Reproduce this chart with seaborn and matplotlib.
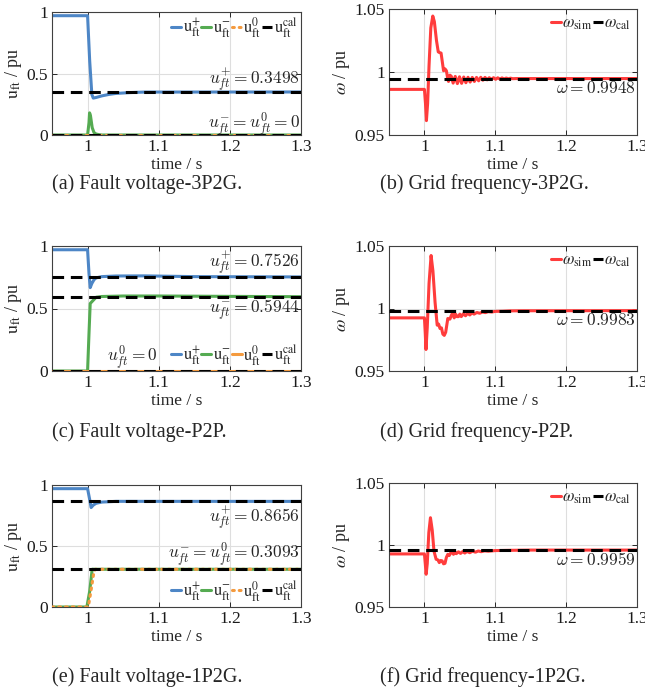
import matplotlib
matplotlib.use("Agg")
import matplotlib.pyplot as plt
import seaborn as sns
import pandas as pd

# ---------------- data ----------------
T0, T1 = 0.95, 1.3

# (a) 3P2G fault voltage
ta_pos = [0.95, 1.000, 1.003, 1.006, 1.008, 1.012, 1.02, 1.03, 1.04, 1.06, 1.08, 1.3]
ua_pos = [0.97, 0.97, 0.60, 0.33, 0.30, 0.305, 0.318, 0.330, 0.338, 0.345, 0.349, 0.3498]
ta_neg = [0.95, 1.0, 1.002, 1.0028, 1.004, 1.0065, 1.009, 1.012, 1.016, 1.02, 1.3]
ua_neg = [0.0, 0.0, 0.10, 0.18, 0.16, 0.06, 0.02, 0.008, 0.003, 0.0, 0.0]
ta_zero = [0.95, 1.3]
ua_zero = [0.0, 0.0]
cal_a = [0.3498, 0.0]

# (c) P2P fault voltage
tc_pos = [0.95, 1.0, 1.002, 1.0037, 1.006, 1.009, 1.012, 1.02, 1.04, 1.08, 1.15, 1.3]
uc_pos = [0.97, 0.97, 0.78, 0.667, 0.70, 0.73, 0.745, 0.755, 0.760, 0.761, 0.755, 0.7526]
tc_neg = [0.95, 1.0, 1.002, 1.0037, 1.007, 1.012, 1.02, 1.05, 1.1, 1.2, 1.3]
uc_neg = [0.0, 0.0, 0.30, 0.54, 0.56, 0.59, 0.596, 0.600, 0.600, 0.597, 0.5944]
tc_zero = [0.95, 1.3]
uc_zero = [0.0, 0.0]
cal_c = [0.7526, 0.5944, 0.0]

# (e) 1P2G fault voltage
te_pos = [0.95, 1.0, 1.003, 1.005, 1.008, 1.012, 1.02, 1.04, 1.3]
ue_pos = [0.97, 0.97, 0.88, 0.815, 0.835, 0.850, 0.860, 0.866, 0.8656]
te_neg = [0.95, 0.999, 1.003, 1.0065, 1.009, 1.3]
ue_neg = [0.0, 0.0, 0.13, 0.31, 0.3093, 0.3093]
te_zero = [0.95, 1.001, 1.005, 1.009, 1.011, 1.3]
ue_zero = [0.0, 0.0, 0.14, 0.29, 0.3093, 0.3093]
cal_e = [0.8656, 0.3093]

# (b) grid frequency 3P2G
tb = [0.95, 1.000, 1.0015, 1.0028, 1.0045, 1.0065, 1.009, 1.0118, 1.014, 1.017,
      1.0195, 1.021, 1.0235, 1.025, 1.027, 1.029, 1.031, 1.0325, 1.034, 1.036,
      1.038, 1.0405, 1.0435, 1.0465, 1.0495, 1.0525, 1.0555, 1.0585, 1.0615, 1.0645,
      1.0675, 1.0705, 1.0735, 1.0765, 1.0795, 1.0825, 1.0855, 1.0885, 1.0915, 1.0945,
      1.0975, 1.1005, 1.1035, 1.1065, 1.1095, 1.1125, 1.1155, 1.1185, 1.1215, 1.1245,
      1.13, 1.3]
wb = [0.9862, 0.9862, 0.975, 0.9614, 0.975, 1.005, 1.035, 1.0444, 1.040, 1.025,
      1.016, 1.0155, 1.0150, 1.009, 1.001, 1.0025, 1.001, 0.996, 0.9925, 0.9975,
      0.9965, 0.9912, 0.9965, 0.9908, 0.9962, 0.9910, 0.9960, 0.9915, 0.9958, 0.9920,
      0.9957, 0.9925, 0.9957, 0.9930, 0.9958, 0.9935, 0.9957, 0.9938, 0.9955, 0.9940,
      0.9955, 0.9942, 0.9954, 0.9944, 0.9953, 0.9945, 0.9952, 0.9946, 0.9951, 0.9947,
      0.9948, 0.9948]
cal_b = 0.9948

# (d) grid frequency P2P
td = [0.95, 1.0, 1.0012, 1.0022, 1.004, 1.0065, 1.0094, 1.012, 1.015, 1.018,
      1.020, 1.022, 1.024, 1.026, 1.028, 1.030, 1.033, 1.036, 1.038, 1.040,
      1.042, 1.044, 1.046, 1.048, 1.050, 1.052, 1.055, 1.058, 1.061, 1.064,
      1.067, 1.070, 1.074, 1.078, 1.082, 1.086, 1.09, 1.095, 1.10, 1.11,
      1.12, 1.14, 1.3]
wd = [0.9925, 0.9925, 0.980, 0.9672, 0.985, 1.020, 1.0424, 1.030, 1.005, 0.9867,
      0.9875, 0.984, 0.9845, 0.9795, 0.9785, 0.981, 0.992, 0.9915, 0.9945, 0.9965,
      0.9925, 0.9955, 0.9935, 0.9935, 0.9955, 0.9935, 0.9958, 0.9942, 0.9962, 0.9948,
      0.9965, 0.9955, 0.9968, 0.9962, 0.9972, 0.9967, 0.9975, 0.9972, 0.9977, 0.9978,
      0.9981, 0.9982, 0.9983]
cal_d = 0.9983

# (f) grid frequency 1P2G
tf = [0.95, 1.0, 1.0012, 1.0024, 1.004, 1.0062, 1.0085, 1.011, 1.0135, 1.0165,
      1.019, 1.021, 1.023, 1.025, 1.027, 1.029, 1.031, 1.033, 1.035, 1.037,
      1.039, 1.041, 1.043, 1.045, 1.048, 1.051, 1.054, 1.057, 1.060, 1.064,
      1.068, 1.072, 1.076, 1.08, 1.085, 1.09, 1.1, 1.12, 1.15, 1.3]
wf = [0.9928, 0.9928, 0.985, 0.9764, 0.985, 1.010, 1.022, 1.012, 0.995, 0.9885,
      0.988, 0.9858, 0.9875, 0.9872, 0.9848, 0.9852, 0.990, 0.9925, 0.9915, 0.9935,
      0.9945, 0.9925, 0.9942, 0.9930, 0.9945, 0.9932, 0.9947, 0.9935, 0.9948, 0.9938,
      0.9950, 0.9942, 0.9952, 0.9946, 0.9953, 0.9950, 0.9955, 0.9957, 0.9959, 0.9959]
cal_f = 0.9959

x_ticks = [1.0, 1.1, 1.2, 1.3]
x_ticklabels = ["1", "1.1", "1.2", "1.3"]
u_ticks = [0, 0.5, 1]
u_ticklabels = ["0", "0.5", "1"]
w_ticks = [0.95, 1.0, 1.05]
w_ticklabels = ["0.95", "1", "1.05"]

captions = ["(a) Fault voltage-3P2G.", "(b) Grid frequency-3P2G.",
            "(c) Fault voltage-P2P.", "(d) Grid frequency-P2P.",
            "(e) Fault voltage-1P2G.", "(f) Grid frequency-1P2G."]

# ---------------- style ----------------
sns.set_style("ticks")
plt.rcParams["font.family"] = ["Liberation Serif", "DejaVu Serif"]
plt.rcParams["mathtext.fontset"] = "stix"

BLUE = "#4d86c6"
GREEN = "#55ab52"
ORANGE = "#f49a3e"
RED = "#ff3c3c"
LW = 2.2
DASH = (0, (3.8, 2.2))

W, H = 645, 688
fig = plt.figure(figsize=(W / 100, H / 100), dpi=100)


def ax_at(l, t, r, b):
    return fig.add_axes([l / W, 1 - b / H, (r - l) / W, (b - t) / H])


def line(ax, t, y, color, label=None, ls="-", z=2):
    sns.lineplot(x=t, y=y, ax=ax, color=color, lw=LW, linestyle=ls,
                 estimator=None, sort=False, label=label, zorder=z)


def hline(ax, v, label=None):
    sns.lineplot(x=[T0, T1], y=[v, v], ax=ax, color="black", lw=LW,
                 linestyle=DASH, estimator=None, sort=False, label=label, zorder=4)


def style(ax, yt, ytl, ylim, ylabel):
    ax.set_xlim(T0, T1)
    ax.set_ylim(*ylim)
    ax.set_xticks(x_ticks)
    ax.set_xticklabels(x_ticklabels)
    ax.set_yticks(yt)
    ax.set_yticklabels(ytl)
    ax.grid(True, color="0.87", lw=0.8)
    ax.set_axisbelow(True)
    ax.tick_params(direction="in", length=3.5, width=0.7, top=True, right=True,
                   labelsize=12.5, colors="0.15", pad=3)
    ax.tick_params(labelcolor="0.1")
    for s in ax.spines.values():
        s.set_color("0.25")
        s.set_linewidth(0.8)
    ax.set_xlabel("time / s", fontsize=12.5, labelpad=1)
    ax.set_ylabel(ylabel, fontsize=13, labelpad=2)


def legend_u(ax, loc, bbox):
    h, l = ax.get_legend_handles_labels()
    ax.legend(h, l, loc=loc, bbox_to_anchor=bbox, ncol=4, frameon=False,
              fontsize=12, handlelength=0.6, handletextpad=0.1,
              columnspacing=0.05, borderpad=0.1, borderaxespad=0.1)


ulab = r"$\mathrm{u}_{\mathrm{ft}}$ / pu"
wlab = r"$\omega$ / pu"
lab_pos = r"$\mathrm{u}_{\mathrm{ft}}^{+}$"
lab_neg = r"$\mathrm{u}_{\mathrm{ft}}^{-}$"
lab_zero = r"$\mathrm{u}_{\mathrm{ft}}^{0}$"
lab_cal = r"$\mathrm{u}_{\mathrm{ft}}^{\mathrm{cal}}$"


def ann(ax, x, y, s, ha="right", va="center"):
    ax.text(x, y, s, ha=ha, va=va, fontsize=12.5, math_fontfamily="cm", zorder=6)


# (a)
ax = ax_at(52, 12, 301, 135)
line(ax, ta_pos, ua_pos, BLUE, lab_pos)
line(ax, ta_neg, ua_neg, GREEN, lab_neg)
line(ax, ta_zero, ua_zero, ORANGE, lab_zero, ls=(0, (0.6, 1.6)), z=3)
ax.lines[-1].set_dash_capstyle("round")
hline(ax, cal_a[0], lab_cal)
hline(ax, cal_a[1])
style(ax, u_ticks, u_ticklabels, (0, 1), ulab)
legend_u(ax, "upper right", (1.0, 1.0))
ann(ax, 1.298, 0.45, r"$u_{ft}^{+} = 0.3498$")
ann(ax, 1.298, 0.085, r"$u_{ft}^{-} = u_{ft}^{0} = 0$")

# (c)
ax = ax_at(52, 246, 301, 371)
line(ax, tc_pos, uc_pos, BLUE, lab_pos)
line(ax, tc_neg, uc_neg, GREEN, lab_neg)
line(ax, tc_zero, uc_zero, ORANGE, lab_zero, z=3)
hline(ax, cal_c[0], lab_cal)
hline(ax, cal_c[1])
hline(ax, cal_c[2])
style(ax, u_ticks, u_ticklabels, (0, 1), ulab)
legend_u(ax, "lower right", (1.0, 0.0))
ann(ax, 1.298, 0.865, r"$u_{ft}^{+} = 0.7526$")
ann(ax, 1.298, 0.49, r"$u_{ft}^{-} = 0.5944$")
ann(ax, 1.063, 0.11, r"$u_{ft}^{0} = 0$", ha="center")

# (e)
ax = ax_at(52, 485, 301, 607)
line(ax, te_pos, ue_pos, BLUE, lab_pos)
line(ax, te_neg, ue_neg, GREEN, lab_neg)
line(ax, te_zero, ue_zero, ORANGE, lab_zero, ls=(0, (0.6, 1.6)), z=3)
ax.lines[-1].set_dash_capstyle("round")
hline(ax, cal_e[0], lab_cal)
hline(ax, cal_e[1])
style(ax, u_ticks, u_ticklabels, (0, 1), ulab)
legend_u(ax, "lower right", (1.0, 0.0))
ann(ax, 1.298, 0.735, r"$u_{ft}^{+} = 0.8656$")
ann(ax, 1.298, 0.43, r"$u_{ft}^{-} = u_{ft}^{0} = 0.3093$")


def w_panel(top, bot, t, w, cal):
    ax = ax_at(389, top, 637, bot)
    line(ax, t, w, RED, r"$\omega_{\mathrm{sim}}$")
    hline(ax, cal, r"$\omega_{\mathrm{cal}}$")
    style(ax, w_ticks, w_ticklabels, (0.95, 1.05), wlab)
    h, l = ax.get_legend_handles_labels()
    ax.legend(h, l, loc="upper right", ncol=2, frameon=False, fontsize=12,
              handlelength=0.6, handletextpad=0.05, columnspacing=0.05,
              borderpad=0.3, borderaxespad=0.1)
    ann(ax, 1.298, cal - 0.0085, r"$\omega = %.4f$" % cal)
    return ax


w_panel(9, 135, tb, wb, cal_b)
w_panel(246, 371, td, wd, cal_d)
w_panel(483, 607, tf, wf, cal_f)

# captions
for i, cy in enumerate([184, 432, 677]):
    fig.text(52 / W, 1 - cy / H, captions[2 * i], fontsize=14.5, ha="left", va="center")
    fig.text(380 / W, 1 - cy / H, captions[2 * i + 1], fontsize=14.5, ha="left", va="center")

fig.savefig("out.png", dpi=100)
